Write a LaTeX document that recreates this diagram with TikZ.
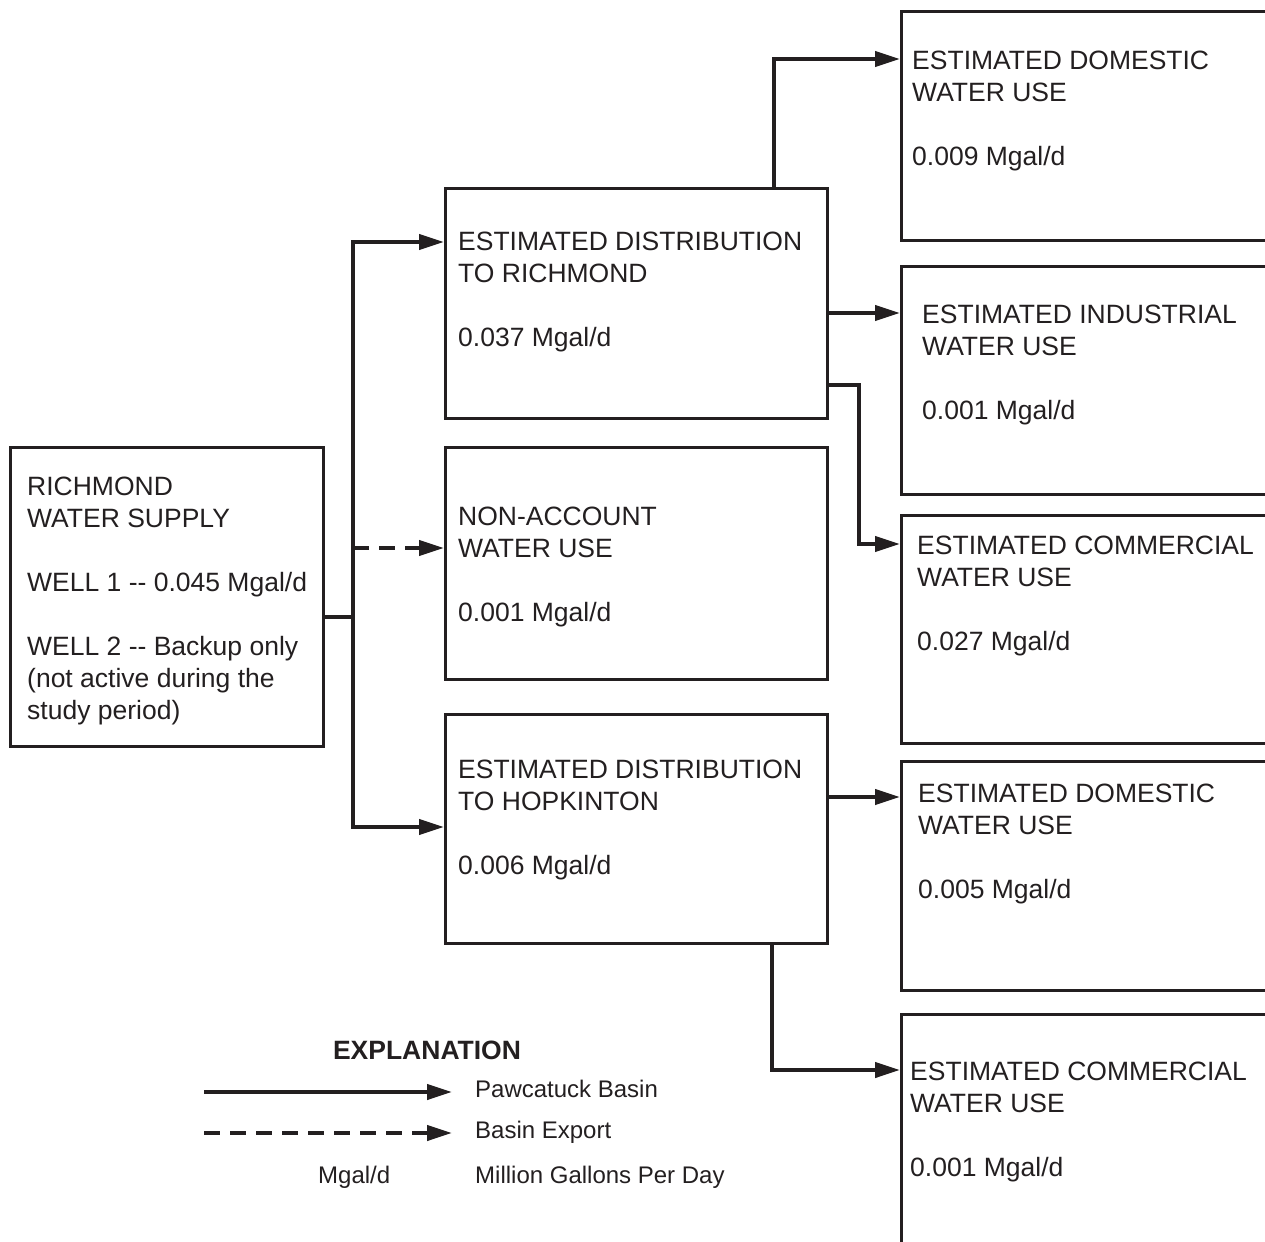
\documentclass[tikz,border=0pt]{standalone}
\usepackage{fontspec}
\setmainfont{Liberation Sans}
\usetikzlibrary{arrows.meta}
\definecolor{ink}{HTML}{231F20}
\tikzset{
  box/.style={draw=ink, line width=2.7pt, fill=none, inner sep=0pt, anchor=north west},
  boxtext/.style={anchor=north west, inner sep=0pt, align=left, text=ink,
    font=\fontsize{26.5}{32}\selectfont},
  legtext/.style={anchor=base west, inner sep=0pt, text=ink,
    font=\fontsize{24}{28}\selectfont},
  flow/.style={draw=ink, line width=4.2pt, -{Triangle[length=25pt,width=15pt]}},
  plainflow/.style={draw=ink, line width=4.2pt},
  exportflow/.style={flow, dash pattern=on 16pt off 10pt},
}
\begin{document}
\begin{tikzpicture}[x=1pt,y=-1pt]
\path[use as bounding box, clip] (0,0) rectangle (1265,1241);

% source and distribution boxes
\node[box, minimum width=313pt, minimum height=299pt] (src) at (9,446) {};
\node[box, minimum width=382pt, minimum height=230pt] (rich) at (444,187) {};
\node[box, minimum width=382pt, minimum height=232pt] (nona) at (444,446) {};
\node[box, minimum width=382pt, minimum height=229pt] (hop) at (444,713) {};

% water-use boxes (run off the right edge)
\node[box, minimum width=400pt, minimum height=229pt] (dom1) at (900,10) {};
\node[box, minimum width=400pt, minimum height=228pt] (ind) at (900,265) {};
\node[box, minimum width=400pt, minimum height=228pt] (com1) at (900,514) {};
\node[box, minimum width=400pt, minimum height=229pt] (dom2) at (900,760) {};
\node[box, minimum width=400pt, minimum height=260pt] (com2) at (900,1013) {};

% box texts
\node[boxtext] (srcT) at (27,476.5) {RICHMOND\\WATER SUPPLY\\[32pt]WELL 1 -{}- 0.045 Mgal/d\\[32pt]WELL 2 -{}- Backup only\\(not active during the\\study period)};
\node[boxtext] (richT) at (458,231.5) {ESTIMATED DISTRIBUTION\\TO RICHMOND\\[32pt]0.037 Mgal/d};
\node[boxtext] (nonaT) at (458,506.5) {NON-ACCOUNT\\WATER USE\\[32pt]0.001 Mgal/d};
\node[boxtext] (hopT) at (458,759.5) {ESTIMATED DISTRIBUTION\\TO HOPKINTON\\[32pt]0.006 Mgal/d};
\node[boxtext] (dom1T) at (912,50.5) {ESTIMATED DOMESTIC\\WATER USE\\[32pt]0.009 Mgal/d};
\node[boxtext] (indT) at (922,304.5) {ESTIMATED INDUSTRIAL\\WATER USE\\[32pt]0.001 Mgal/d};
\node[boxtext] (com1T) at (917,535.5) {ESTIMATED COMMERCIAL\\WATER USE\\[32pt]0.027 Mgal/d};
\node[boxtext] (dom2T) at (918,783.5) {ESTIMATED DOMESTIC\\WATER USE\\[32pt]0.005 Mgal/d};
\node[boxtext] (com2T) at (910,1061.5) {ESTIMATED COMMERCIAL\\WATER USE\\[32pt]0.001 Mgal/d};

% connectors
\coordinate (j) at (353,617);
\coordinate (xport) at (353,548);
\draw[plainflow] (src.east |- j) -- (j);
\draw[flow] (j) |- (rich.west |- 0,242);
\draw[flow] (j) |- (hop.west |- 0,827);
\draw[exportflow] (xport) -- (nona.west |- xport);
\draw[flow] (774,0 |- rich.north) |- (dom1.west |- 0,59);
\draw[flow] (rich.east |- 0,313) -- (ind.west |- 0,313);
\draw[flow] (rich.east |- 0,385) -- (859,385) |- (com1.west |- 0,544);
\draw[flow] (hop.east |- 0,797) -- (dom2.west |- 0,797);
\draw[flow] (772,0 |- hop.south) |- (com2.west |- 0,1070);

% explanation
\node[anchor=base, inner sep=0pt, text=ink, font=\fontsize{26.5}{30}\selectfont\bfseries] (expl) at (427,1059.5) {EXPLANATION};
\coordinate (lgA0) at (204,1092);
\coordinate (lgA1) at (452,1092);
\coordinate (lgB0) at (204,1133);
\coordinate (lgB1) at (452,1133);
\draw[flow] (lgA0) -- (lgA1);
\draw[exportflow] (lgB0) -- (lgB1);
\node[legtext] (lgAT) at (475,1097.5) {Pawcatuck Basin};
\node[legtext] (lgBT) at (475,1138.5) {Basin Export};
\node[legtext] (lgCK) at (318,1183.5) {Mgal/d};
\node[legtext] (lgCT) at (475,1183.5) {Million Gallons Per Day};
\end{tikzpicture}
\end{document}
